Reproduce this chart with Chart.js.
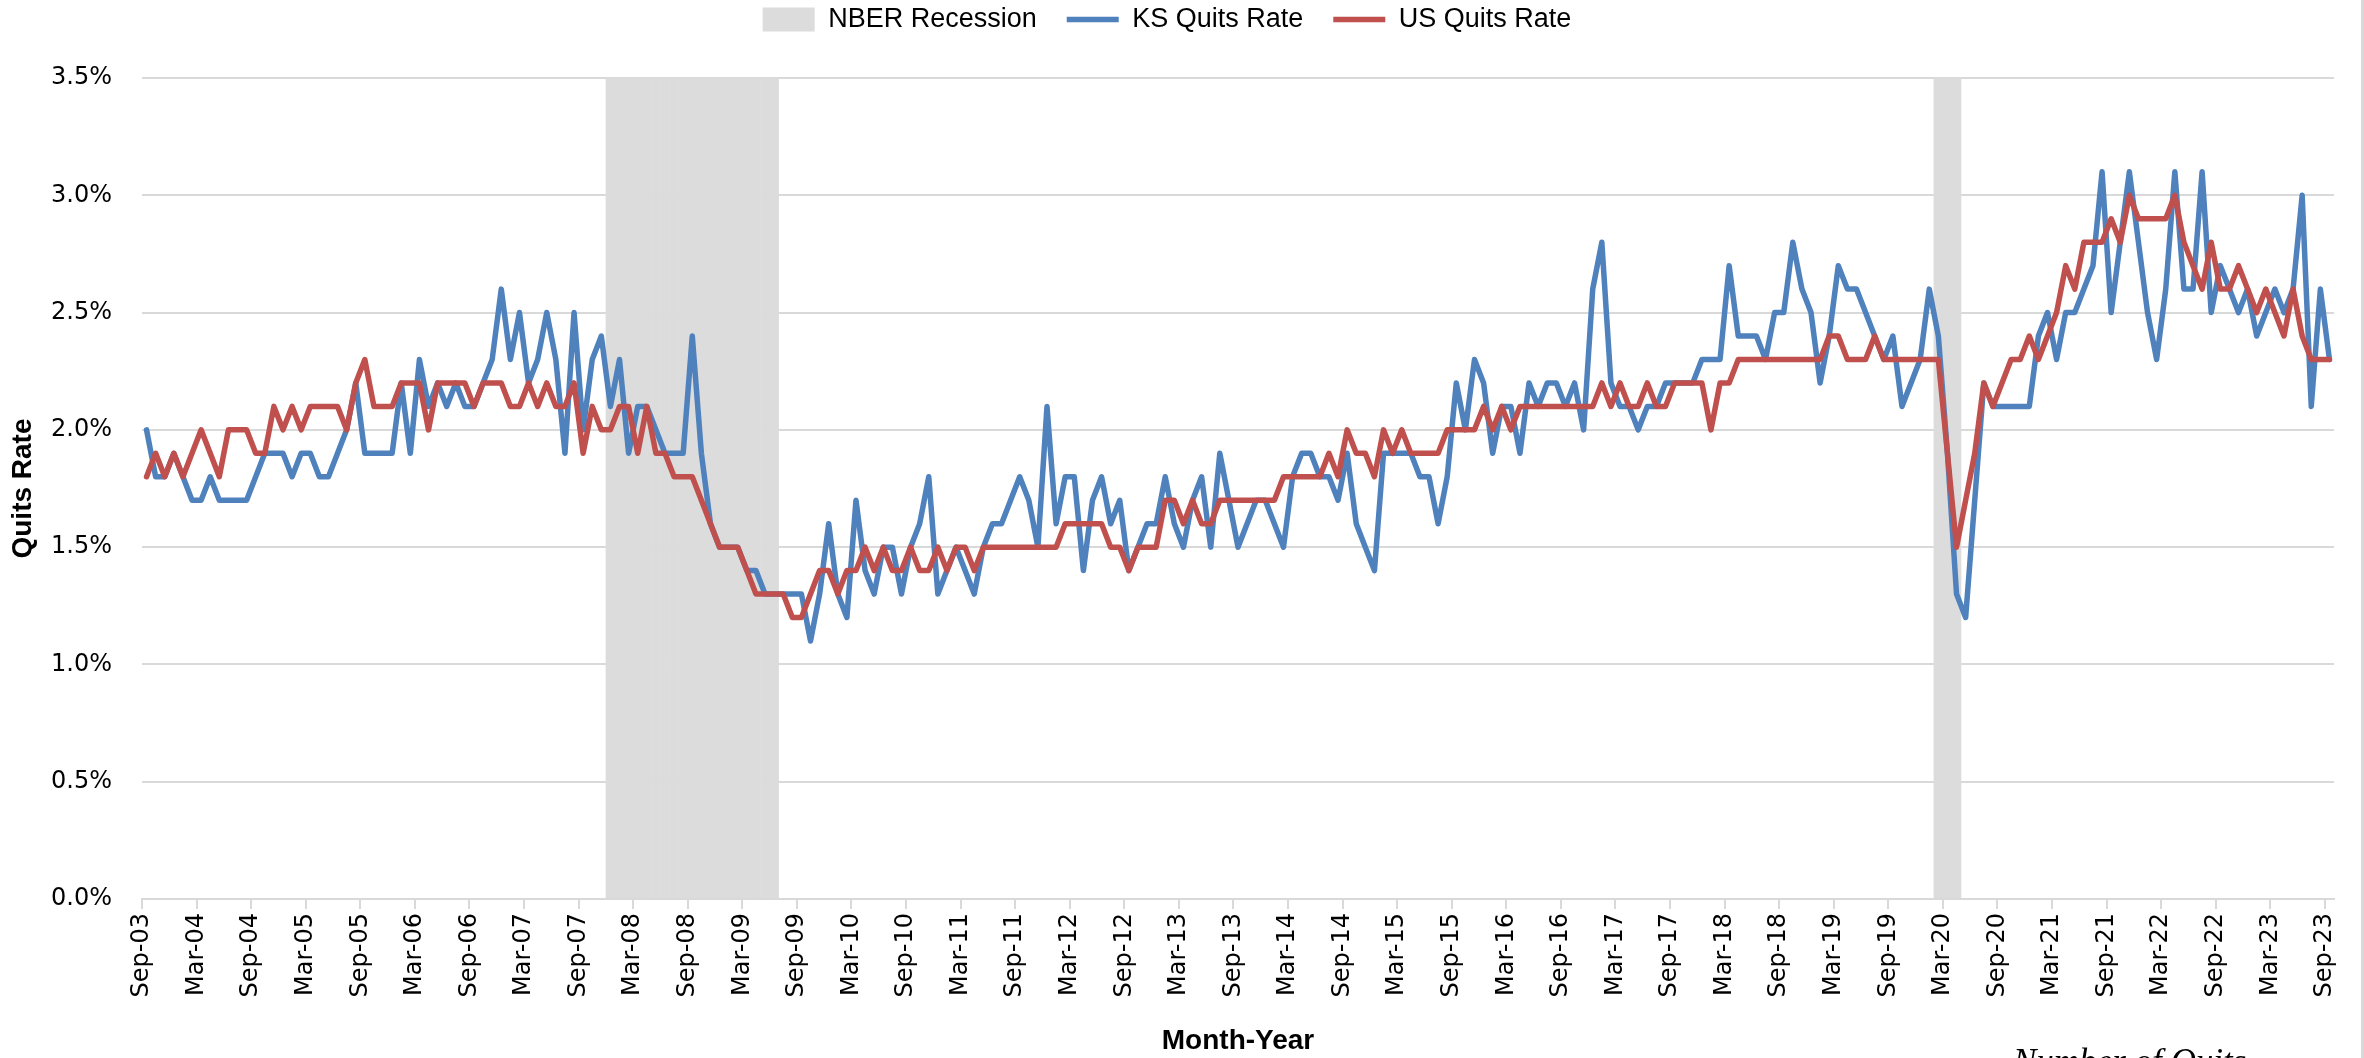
<!DOCTYPE html>
<html>
<head>
<meta charset="utf-8">
<script src="https://cdn.jsdelivr.net/npm/chart.js"></script>
<style>
  html, body { margin: 0; padding: 0; background: #fff; }
  #wrap { width: 2364px; height: 1058px; }
</style>
</head>
<body>
<div id="wrap"><canvas id="chart" width="2364" height="1058"></canvas></div>
<script>
// Quits rate (%), monthly, Sep-03 .. Sep-23
const ksRate = [
  2.0, 1.8, 1.8, 1.9, 1.8, 1.7, 1.7, 1.8, 1.7, 1.7,
  1.7, 1.7, 1.8, 1.9, 1.9, 1.9, 1.8, 1.9, 1.9, 1.8,
  1.8, 1.9, 2.0, 2.2, 1.9, 1.9, 1.9, 1.9, 2.2, 1.9,
  2.3, 2.1, 2.2, 2.1, 2.2, 2.1, 2.1, 2.2, 2.3, 2.6,
  2.3, 2.5, 2.2, 2.3, 2.5, 2.3, 1.9, 2.5, 2.0, 2.3,
  2.4, 2.1, 2.3, 1.9, 2.1, 2.1, 2.0, 1.9, 1.9, 1.9,
  2.4, 1.9, 1.6, 1.5, 1.5, 1.5, 1.4, 1.4, 1.3, 1.3,
  1.3, 1.3, 1.3, 1.1, 1.3, 1.6, 1.3, 1.2, 1.7, 1.4,
  1.3, 1.5, 1.5, 1.3, 1.5, 1.6, 1.8, 1.3, 1.4, 1.5,
  1.4, 1.3, 1.5, 1.6, 1.6, 1.7, 1.8, 1.7, 1.5, 2.1,
  1.6, 1.8, 1.8, 1.4, 1.7, 1.8, 1.6, 1.7, 1.4, 1.5,
  1.6, 1.6, 1.8, 1.6, 1.5, 1.7, 1.8, 1.5, 1.9, 1.7,
  1.5, 1.6, 1.7, 1.7, 1.6, 1.5, 1.8, 1.9, 1.9, 1.8,
  1.8, 1.7, 1.9, 1.6, 1.5, 1.4, 1.9, 1.9, 1.9, 1.9,
  1.8, 1.8, 1.6, 1.8, 2.2, 2.0, 2.3, 2.2, 1.9, 2.1,
  2.1, 1.9, 2.2, 2.1, 2.2, 2.2, 2.1, 2.2, 2.0, 2.6,
  2.8, 2.2, 2.1, 2.1, 2.0, 2.1, 2.1, 2.2, 2.2, 2.2,
  2.2, 2.3, 2.3, 2.3, 2.7, 2.4, 2.4, 2.4, 2.3, 2.5,
  2.5, 2.8, 2.6, 2.5, 2.2, 2.4, 2.7, 2.6, 2.6, 2.5,
  2.4, 2.3, 2.4, 2.1, 2.2, 2.3, 2.6, 2.4, 1.9, 1.3,
  1.2, 1.7, 2.2, 2.1, 2.1, 2.1, 2.1, 2.1, 2.4, 2.5,
  2.3, 2.5, 2.5, 2.6, 2.7, 3.1, 2.5, 2.8, 3.1, 2.8,
  2.5, 2.3, 2.6, 3.1, 2.6, 2.6, 3.1, 2.5, 2.7, 2.6,
  2.5, 2.6, 2.4, 2.5, 2.6, 2.5, 2.6, 3.0, 2.1, 2.6,
  2.3
];

const usRate = [
  1.8, 1.9, 1.8, 1.9, 1.8, 1.9, 2.0, 1.9, 1.8, 2.0,
  2.0, 2.0, 1.9, 1.9, 2.1, 2.0, 2.1, 2.0, 2.1, 2.1,
  2.1, 2.1, 2.0, 2.2, 2.3, 2.1, 2.1, 2.1, 2.2, 2.2,
  2.2, 2.0, 2.2, 2.2, 2.2, 2.2, 2.1, 2.2, 2.2, 2.2,
  2.1, 2.1, 2.2, 2.1, 2.2, 2.1, 2.1, 2.2, 1.9, 2.1,
  2.0, 2.0, 2.1, 2.1, 1.9, 2.1, 1.9, 1.9, 1.8, 1.8,
  1.8, 1.7, 1.6, 1.5, 1.5, 1.5, 1.4, 1.3, 1.3, 1.3,
  1.3, 1.2, 1.2, 1.3, 1.4, 1.4, 1.3, 1.4, 1.4, 1.5,
  1.4, 1.5, 1.4, 1.4, 1.5, 1.4, 1.4, 1.5, 1.4, 1.5,
  1.5, 1.4, 1.5, 1.5, 1.5, 1.5, 1.5, 1.5, 1.5, 1.5,
  1.5, 1.6, 1.6, 1.6, 1.6, 1.6, 1.5, 1.5, 1.4, 1.5,
  1.5, 1.5, 1.7, 1.7, 1.6, 1.7, 1.6, 1.6, 1.7, 1.7,
  1.7, 1.7, 1.7, 1.7, 1.7, 1.8, 1.8, 1.8, 1.8, 1.8,
  1.9, 1.8, 2.0, 1.9, 1.9, 1.8, 2.0, 1.9, 2.0, 1.9,
  1.9, 1.9, 1.9, 2.0, 2.0, 2.0, 2.0, 2.1, 2.0, 2.1,
  2.0, 2.1, 2.1, 2.1, 2.1, 2.1, 2.1, 2.1, 2.1, 2.1,
  2.2, 2.1, 2.2, 2.1, 2.1, 2.2, 2.1, 2.1, 2.2, 2.2,
  2.2, 2.2, 2.0, 2.2, 2.2, 2.3, 2.3, 2.3, 2.3, 2.3,
  2.3, 2.3, 2.3, 2.3, 2.3, 2.4, 2.4, 2.3, 2.3, 2.3,
  2.4, 2.3, 2.3, 2.3, 2.3, 2.3, 2.3, 2.3, 1.9, 1.5,
  1.7, 1.9, 2.2, 2.1, 2.2, 2.3, 2.3, 2.4, 2.3, 2.4,
  2.5, 2.7, 2.6, 2.8, 2.8, 2.8, 2.9, 2.8, 3.0, 2.9,
  2.9, 2.9, 2.9, 3.0, 2.8, 2.7, 2.6, 2.8, 2.6, 2.6,
  2.7, 2.6, 2.5, 2.6, 2.5, 2.4, 2.6, 2.4, 2.3, 2.3,
  2.3
];

// labelled months on the x axis
const tickLabels = [
  'Sep-03', 'Mar-04', 'Sep-04', 'Mar-05', 'Sep-05', 'Mar-06', 'Sep-06', 'Mar-07',
  'Sep-07', 'Mar-08', 'Sep-08', 'Mar-09', 'Sep-09', 'Mar-10', 'Sep-10', 'Mar-11',
  'Sep-11', 'Mar-12', 'Sep-12', 'Mar-13', 'Sep-13', 'Mar-14', 'Sep-14', 'Mar-15',
  'Sep-15', 'Mar-16', 'Sep-16', 'Mar-17', 'Sep-17', 'Mar-18', 'Sep-18', 'Mar-19',
  'Sep-19', 'Mar-20', 'Sep-20', 'Mar-21', 'Sep-21', 'Mar-22', 'Sep-22', 'Mar-23',
  'Sep-23'
];

// NBER recessions, first and last month
const recessions = [['Dec-07', 'Jun-09'], ['Feb-20', 'Apr-20']];

const yMax = 3.5;

// month names for every point, starting Sep-03
const monthNames = ['Jan', 'Feb', 'Mar', 'Apr', 'May', 'Jun', 'Jul', 'Aug', 'Sep', 'Oct', 'Nov', 'Dec'];
const months = ksRate.map((_, i) => {
  const n = 8 + i;
  return monthNames[n % 12] + '-' + String(3 + Math.floor(n / 12)).padStart(2, '0');
});

const recessionData = [];
recessions.forEach(([a, b]) => {
  for (let i = months.indexOf(a); i <= months.indexOf(b); i++) {
    recessionData.push({ x: i, y: yMax });
  }
});

const toPoints = arr => arr.map((v, i) => ({ x: i, y: v }));

// legend sits high, leave a gap under it
const legendGap = {
  id: 'legendGap',
  beforeInit(chart) {
    const fit = chart.legend.fit;
    chart.legend.fit = function () {
      fit.call(this);
      this.height = 102;
    };
  }
};

// right frame line and the clipped caption of the next chart
const extras = {
  id: 'extras',
  afterDraw(chart) {
    const c = chart.ctx;
    c.save();
    c.fillStyle = '#d9d9d9';
    c.fillRect(chart.width - 3, 0, 3, chart.height);
    c.fillStyle = '#000';
    c.font = 'italic 35px "Liberation Serif", serif';
    c.fillText('Number of Quits', 2013, 1064);
    c.restore();
  }
};

const titleFont = { family: "'Liberation Sans', Arial, sans-serif", size: 28, weight: 'bold' };
const tickFont = { family: "'DejaVu Sans', sans-serif", size: 24 };

new Chart(document.getElementById('chart'), {
  data: {
    datasets: [
      {
        type: 'bar',
        label: 'NBER Recession',
        data: recessionData,
        backgroundColor: '#dcdcdc',
        borderWidth: 0,
        barPercentage: 1.05,
        categoryPercentage: 1,
        order: 3
      },
      {
        type: 'line',
        label: 'KS Quits Rate',
        data: toPoints(ksRate),
        borderColor: '#4f81bd',
        backgroundColor: '#4f81bd',
        borderWidth: 5.5,
        pointRadius: 0,
        borderJoinStyle: 'round',
        borderCapStyle: 'round',
        order: 2
      },
      {
        type: 'line',
        label: 'US Quits Rate',
        data: toPoints(usRate),
        borderColor: '#c0504d',
        backgroundColor: '#c0504d',
        borderWidth: 5.5,
        pointRadius: 0,
        borderJoinStyle: 'round',
        borderCapStyle: 'round',
        order: 1
      }
    ]
  },
  options: {
    responsive: false,
    animation: false,
    devicePixelRatio: 1,
    layout: { padding: { top: -24, right: 30, bottom: 0, left: 0 } },
    plugins: {
      tooltip: { enabled: false },
      legend: {
        position: 'top',
        labels: {
          color: '#000',
          font: { family: "'Liberation Sans', Arial, sans-serif", size: 27 },
          usePointStyle: true,
          pointStyleWidth: 52,
          boxHeight: 24,
          padding: 30,
          sort: (a, b) => a.datasetIndex - b.datasetIndex,
          generateLabels: chart => {
            const items = Chart.defaults.plugins.legend.labels.generateLabels(chart);
            items.forEach(it => { it.pointStyle = it.datasetIndex === 0 ? 'rect' : 'line'; });
            return items;
          }
        }
      }
    },
    scales: {
      x: {
        type: 'linear',
        offset: false,
        min: -0.5,
        max: months.length - 0.5,
        afterBuildTicks: scale => {
          scale.ticks = tickLabels.map(l => ({ value: months.indexOf(l) - 0.5 }));
        },
        afterFit: scale => { scale.height = 159; },
        ticks: {
          autoSkip: false,
          minRotation: 90,
          maxRotation: 90,
          padding: 4,
          color: '#000',
          font: tickFont,
          callback: (v, i) => tickLabels[i]
        },
        grid: { offset: false, drawOnChartArea: false, drawTicks: true, tickLength: 10, color: '#d9d9d9', lineWidth: 2 },
        border: { display: true, color: '#d9d9d9', width: 2 },
        title: { display: true, text: 'Month-Year', color: '#000', font: titleFont, padding: { top: 0, bottom: 0 } }
      },
      y: {
        min: 0,
        max: yMax,
        afterFit: scale => { scale.width = 142; },
        ticks: {
          stepSize: 0.5,
          padding: 30,
          color: '#000',
          font: tickFont,
          callback: v => v.toFixed(1) + '%'
        },
        grid: { color: '#d9d9d9', lineWidth: 2, drawTicks: false },
        border: { display: false },
        title: { display: true, text: 'Quits Rate', color: '#000', font: titleFont, padding: { top: 6, bottom: 0 } }
      }
    }
  },
  plugins: [legendGap, extras]
});
</script>
</body>
</html>
